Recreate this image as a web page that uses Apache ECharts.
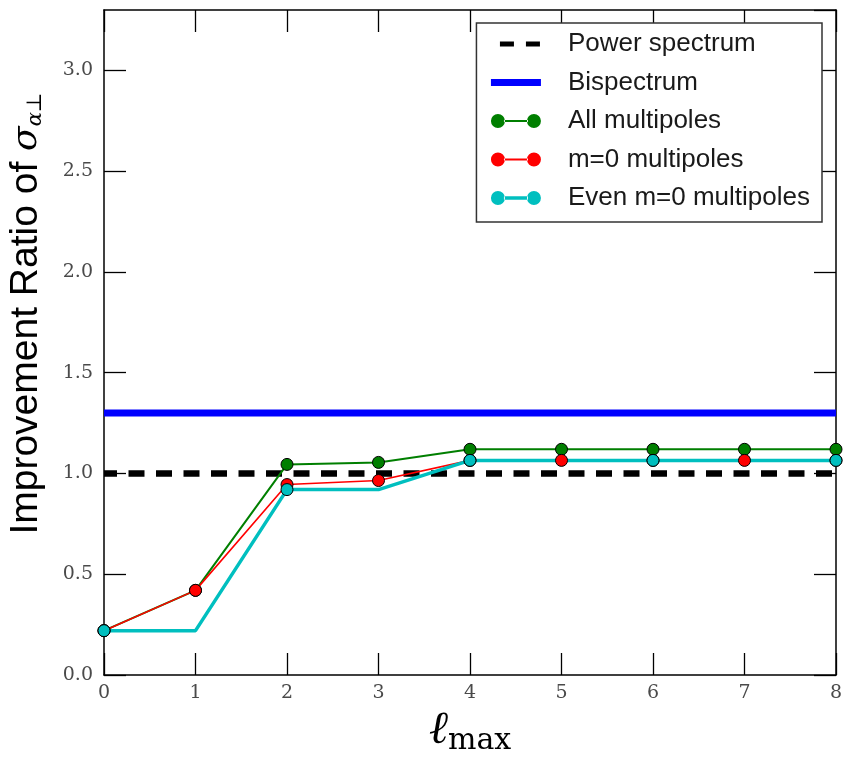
<!DOCTYPE html>
<html>
<head>
<meta charset="utf-8">
<script src="https://cdn.jsdelivr.net/npm/echarts@6/dist/echarts.min.js"></script>
<style>html,body{margin:0;padding:0;background:#fff}#c{width:844px;height:761px}</style>
</head>
<body>
<div id="c"></div>
<script>
// ---- data ----
const lmax = [0, 1, 2, 3, 4, 5, 6, 7, 8];
const powerSpectrum = 1.0;
const bispectrum = 1.30;
const allMultipoles = [0.22, 0.42, 1.045, 1.055, 1.12, 1.12, 1.12, 1.12, 1.12];
const m0Multipoles = [0.22, 0.42, 0.945, 0.965, 1.065, 1.065, 1.065, 1.065, 1.065];
const evenM0Multipoles = [0.22, 0.22, 0.92, 0.92, 1.065, 1.065, 1.065, 1.065, 1.065];
const yTicks = [0, 0.5, 1.0, 1.5, 2.0, 2.5, 3.0];
const seriesNames = ['Power spectrum', 'Bispectrum', 'All multipoles', 'm=0 multipoles', 'Even m=0 multipoles'];

// ---- helpers ----
const pairs = vals => vals.map((v, i) => [lmax[i], v]);
const flat = v => [[lmax[0], v], [lmax[lmax.length - 1], v]];
function markerIcon(t) {
  const a = 7 - t / 2, b = 7 + t / 2;
  return 'path://M0,7 a7,7 0 1,0 14,0 a7,7 0 1,0 -14,0 Z ' +
         'M36,7 a7,7 0 1,0 14,0 a7,7 0 1,0 -14,0 Z ' +
         'M13,' + a + ' L37,' + a + ' L37,' + b + ' L13,' + b + ' Z';
}

const chart = echarts.init(document.getElementById('c'), null, {renderer: 'canvas'});
const tickStyle = {show: true, inside: true, length: 22, lineStyle: {color: '#000', width: 1.3}};
const axisLine = {show: true, onZero: false, lineStyle: {color: '#000', width: 1.5}};
const serifLabel = {fontFamily: 'DejaVu Serif', fontSize: 19, color: '#4a4a4a'};

chart.setOption({
  animation: false,
  backgroundColor: '#fff',
  grid: {left: 104, right: 8, top: 10, bottom: 86, containLabel: false, outerBoundsMode: 'none'},
  legend: {
    orient: 'vertical',
    right: 22,
    top: 23,
    padding: [8, 12, 11, 11],
    itemWidth: 50,
    itemHeight: 14,
    itemGap: 12.5,
    backgroundColor: '#fff',
    borderColor: '#333',
    borderWidth: 1.5,
    borderRadius: 0,
    textStyle: {fontFamily: 'Liberation Sans', fontSize: 26, color: '#1a1a1a', lineHeight: 26, padding: [0, 0, 0, 22]},
    lineStyle: {width: 'inherit'},
    data: [
      {name: seriesNames[0], itemStyle: {opacity: 0}, lineStyle: {width: 5, type: [14, 12], dashOffset: 17}},
      {name: seriesNames[1], itemStyle: {opacity: 0}, lineStyle: {width: 7}},
      {name: seriesNames[2], icon: markerIcon(2.2), itemStyle: {borderWidth: 0}},
      {name: seriesNames[3], icon: markerIcon(1.8), itemStyle: {borderWidth: 0}},
      {name: seriesNames[4], icon: markerIcon(3.6), itemStyle: {borderWidth: 0}}
    ]
  },
  xAxis: [{
    type: 'value', min: 0, max: 8, interval: 1,
    axisLine: axisLine, axisTick: tickStyle, splitLine: {show: false},
    axisLabel: Object.assign({margin: 9}, serifLabel),
    name: '{l|ℓ}{m|max}',
    nameLocation: 'middle',
    nameGap: 21,
    nameTextStyle: {
      rich: {
        l: {fontFamily: 'DejaVu Serif', fontStyle: 'italic', fontSize: 46, lineHeight: 50, color: '#000'},
        m: {fontFamily: 'DejaVu Serif', fontSize: 30, lineHeight: 30, verticalAlign: 'bottom', color: '#000', padding: [14, 0, 0, 0]}
      }
    }
  }, {
    type: 'value', min: 0, max: 8, interval: 1, position: 'top',
    axisLine: axisLine, axisTick: tickStyle, splitLine: {show: false}, axisLabel: {show: false}
  }],
  yAxis: [{
    type: 'value', min: 0, max: 3.3, interval: 0.5,
    axisLine: axisLine, axisTick: tickStyle, splitLine: {show: false},
    axisLabel: Object.assign({margin: 11, showMaxLabel: false,
      formatter: v => yTicks.some(t => Math.abs(t - v) < 1e-6) ? v.toFixed(1) : ''}, serifLabel),
    name: 'Improvement Ratio of {s|σ}{a|α⊥}',
    nameLocation: 'middle',
    nameGap: 58,
    nameTextStyle: {
      fontFamily: 'Liberation Sans', fontSize: 39, color: '#000', padding: [0, 0, 0, 58],
      rich: {
        s: {fontFamily: 'DejaVu Serif', fontStyle: 'italic', fontSize: 36, color: '#000'},
        a: {fontFamily: 'DejaVu Serif', fontStyle: 'italic', fontSize: 21, color: '#000', verticalAlign: 'bottom', padding: [18, 0, 0, 0]}
      }
    }
  }, {
    type: 'value', min: 0, max: 3.3, interval: 0.5, position: 'right',
    axisLine: axisLine, axisTick: tickStyle, splitLine: {show: false}, axisLabel: {show: false}
  }],
  series: [
    {
      name: seriesNames[0], type: 'line', data: flat(powerSpectrum), showSymbol: false, symbol: 'none',
      lineStyle: {color: '#000', width: 6.5, type: [16, 11.5], dashOffset: 3}, itemStyle: {color: '#000'}
    },
    {
      name: seriesNames[1], type: 'line', data: flat(bispectrum), showSymbol: false, symbol: 'none',
      lineStyle: {color: '#0000ff', width: 7}, itemStyle: {color: '#0000ff'}
    },
    {
      name: seriesNames[2], type: 'line', data: pairs(allMultipoles), symbol: 'circle', symbolSize: 12,
      lineStyle: {color: '#007f00', width: 2}, itemStyle: {color: '#007f00', borderColor: '#000', borderWidth: 1}
    },
    {
      name: seriesNames[3], type: 'line', data: pairs(m0Multipoles), symbol: 'circle', symbolSize: 12,
      lineStyle: {color: '#ff0000', width: 1.6}, itemStyle: {color: '#ff0000', borderColor: '#000', borderWidth: 1}
    },
    {
      name: seriesNames[4], type: 'line', symbolSize: 12,
      data: evenM0Multipoles.map((v, i) => ({value: [lmax[i], v], symbol: lmax[i] % 2 === 0 ? 'circle' : 'none'})),
      symbol: 'circle',
      lineStyle: {color: '#00bfbf', width: 3.5}, itemStyle: {color: '#00bfbf', borderColor: '#000', borderWidth: 1}
    }
  ]
});
</script>
</body>
</html>
